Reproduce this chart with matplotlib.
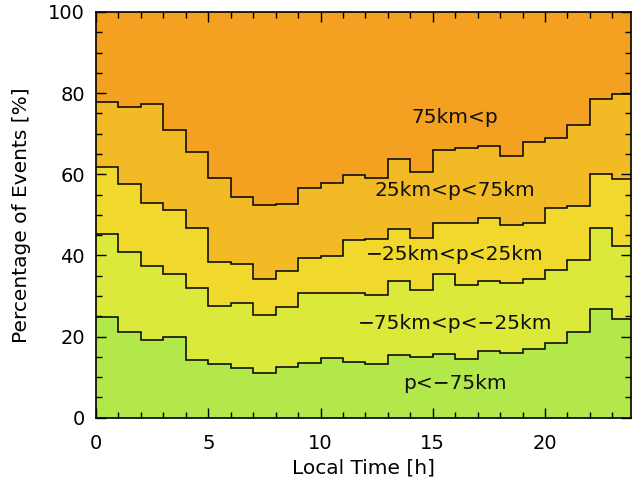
import numpy as np
import matplotlib
matplotlib.use("Agg")
import matplotlib.pyplot as plt
from matplotlib.ticker import MultipleLocator

# Local time bins (hours)
hours = np.arange(25)  # bin edges 0..24

# Percentage of events per category in each 1-h bin
p_lt_m75 = [24.7, 21.2, 19.2, 20.0, 14.1, 13.2, 12.3, 10.9, 12.4, 13.6, 14.6, 13.8,
            13.2, 15.5, 14.9, 15.7, 14.4, 16.5, 15.9, 16.9, 18.3, 21.2, 26.7, 24.3]
p_m75_m25 = [20.5, 19.6, 18.1, 15.5, 17.9, 14.3, 15.9, 14.4, 14.8, 17.1, 16.1, 17.0,
             17.0, 18.1, 16.6, 19.7, 18.4, 17.3, 17.4, 17.2, 18.1, 17.7, 20.1, 18.1]
p_m25_25 = [16.7, 16.9, 15.5, 15.6, 14.7, 10.8, 9.6, 8.8, 9.0, 8.7, 9.2, 13.1,
            13.8, 13.0, 12.9, 12.5, 15.1, 15.4, 14.1, 14.0, 15.2, 13.3, 13.2, 16.4]
p_25_75 = [16.0, 18.9, 24.6, 19.9, 18.9, 20.9, 16.7, 18.3, 16.5, 17.3, 17.9, 15.8,
           15.2, 17.2, 16.2, 18.1, 18.5, 17.8, 17.1, 19.8, 17.3, 19.9, 18.5, 20.9]
p_gt_75 = [22.1, 23.4, 22.6, 29.0, 34.4, 40.8, 45.5, 47.6, 47.3, 43.3, 42.2, 40.3,
           40.8, 36.2, 39.4, 34.0, 33.6, 33.0, 35.5, 32.1, 31.1, 27.9, 21.5, 20.3]

series = [p_lt_m75, p_m75_m25, p_m25_25, p_25_75, p_gt_75]
labels = ["p<\u221275km", "\u221275km<p<\u221225km", "\u221225km<p<25km",
          "25km<p<75km", "75km<p"]
label_pos = [(16.0, 8.5), (16.0, 23.3), (16.0, 40.3), (16.0, 55.9), (16.0, 73.9)]
colors = ["#B2E84A", "#DAE93A", "#F0D82C", "#F2BA24", "#F4A020"]

fig = plt.figure(figsize=(6.32, 4.83), dpi=100)
ax = fig.add_axes([96 / 632, (483 - 417.7) / 483, (631 - 96) / 632, (417.7 - 12) / 483])

bottom = np.zeros(24)
for i, vals in enumerate(series):
    top = bottom + np.array(vals)
    if i == len(series) - 1:
        top = np.full(24, 100.0)
    ax.stairs(top, hours, baseline=bottom, fill=True, color=colors[i], lw=0)
    bottom = top

# boundary lines
bottom = np.zeros(24)
for vals in series[:-1]:
    bottom = bottom + np.array(vals)
    ax.stairs(bottom, hours, baseline=None, color="black", lw=1.1)

for lab, (x, y) in zip(labels, label_pos):
    ax.text(x, y, lab, ha="center", va="center", fontsize=14.5, color="#111111")

ax.set_xlim(0, 23.83)
ax.set_ylim(0, 100)
ax.xaxis.set_major_locator(MultipleLocator(5))
ax.xaxis.set_minor_locator(MultipleLocator(1))
ax.yaxis.set_major_locator(MultipleLocator(20))
ax.yaxis.set_minor_locator(MultipleLocator(5))
ax.tick_params(which="both", direction="in", top=True, right=True, width=1)
ax.tick_params(which="major", length=7, labelsize=14, pad=8)
ax.tick_params(axis="x", which="major", pad=12)
ax.tick_params(which="minor", length=4)
for s in ax.spines.values():
    s.set_linewidth(1.2)

ax.set_xlabel("Local Time [h]", fontsize=14.5, labelpad=4)
ax.set_ylabel("Percentage of Events [%]", fontsize=14.5, labelpad=12)

fig.savefig("out.png", dpi=100)
